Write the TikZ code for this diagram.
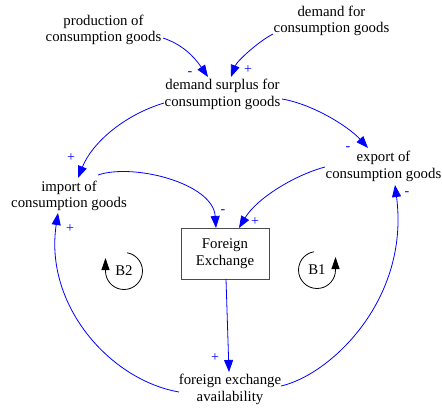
\documentclass[tikz,border=0pt]{standalone}
\usepackage{fontspec}
\setmainfont{Liberation Serif}
\newfontfamily\labelfont{Liberation Serif}
\usetikzlibrary{arrows.meta}
\begin{document}
\begin{tikzpicture}[x=1pt,y=-1pt,
  var/.style={align=center, font=\labelfont\fontsize{14.8}{16.5}\selectfont, inner sep=0pt},
  stock/.style={draw=black!70, line width=0.9pt, minimum width=88pt, minimum height=51pt,
    align=center, font=\labelfont\fontsize{14.8}{17.5}\selectfont, inner sep=0pt},
  link/.style={blue, line width=0.8pt, -{Triangle[length=12pt,width=9pt]}},
  sign/.style={text=blue, font=\labelfont\fontsize{14}{14}\selectfont, inner sep=0pt},
  loopline/.style={black, line width=0.8pt, -{Triangle[length=12pt,width=8pt]}},
  looplabel/.style={font=\labelfont\fontsize{14.8}{16}\selectfont, inner sep=0pt}
]
\useasboundingbox (0,0) rectangle (442,410);

% variables
\node[var] (prod)    at (103.5,30)   {production of\\consumption goods};
\node[var] (dem)     at (331.5,21)   {demand for\\consumption goods};
\node[var] (surplus) at (222.5,94.5) {demand surplus for\\consumption goods};
\node[var] (imp)     at (69,196)     {import of\\consumption goods};
\node[var] (exp)     at (383.5,166.5){export of\\consumption goods};
\node[stock] (fx)    at (225,253.5)  {Foreign\\Exchange};
\node[var] (avail)   at (230,389.5)  {foreign exchange\\availability};

% causal links
\draw[link] ([shift={(59.5,8)}]prod.center) .. controls +(18,6) and +(-15,-22) .. ([shift={(-14.5,-17.5)}]surplus.center);
\draw[link] ([shift={(-58.5,13)}]dem.center) .. controls +(-14,7) and +(6,-16) .. ([shift={(8.5,-17.5)}]surplus.center);
\draw[link] ([shift={(-58.5,8.5)}]surplus.center) .. controls +(-40,12) and +(14,-35) .. ([shift={(9,-18)}]imp.center);
\draw[link] ([shift={(59.5,4.5)}]surplus.center) .. controls +(30,5) and +(-20,-22) .. ([shift={(-15.5,-18.5)}]exp.center);
\draw[link] ([shift={(29,-21)}]imp.center) .. controls +(35,-12) and +(-3,-45) .. ([shift={(-9,-25.5)}]fx.center);
\draw[link] ([shift={(-58.5,0.5)}]exp.center) .. controls +(-30,8) and +(18,-30) .. ([shift={(14,-25.5)}]fx.center);
\draw[link] ([shift={(1,25.5)}]fx.center) -- ([shift={(-1,-17.5)}]avail.center);
\draw[link] ([shift={(-51,2.5)}]avail.center) .. controls +(-69,-12) and +(-14,92) .. ([shift={(-11,17)}]imp.center);
\draw[link] ([shift={(51,-3.5)}]avail.center) .. controls +(49,-11) and +(15,115) .. ([shift={(11.5,18.5)}]exp.center);

% link polarities
\node[sign] (s1) at (190,74)  {-};
\node[sign] (s2) at (248,70)  {+};
\node[sign] (s3) at (71,158)  {+};
\node[sign] (s4) at (348,149) {-};
\node[sign] (s5) at (223,212) {-};
\node[sign] (s6) at (255,222) {+};
\node[sign] (s7) at (215,358) {+};
\node[sign] (s8) at (70,229)  {+};
\node[sign] (s9) at (407,194) {-};

% balancing loop markers
\node[looplabel] (b2) at (124,271) {B2};
\draw[loopline] ([shift={(-80:18.5)}]b2.center) arc[start angle=-80, end angle=180, radius=18.5] -- ++(0,-13);
\node[looplabel] (b1) at (317,270) {B1};
\draw[loopline] ([shift={(-100:18.5)}]b1.center) arc[start angle=-100, end angle=-360, radius=18.5] -- ++(0,-13);
\end{tikzpicture}
\end{document}
